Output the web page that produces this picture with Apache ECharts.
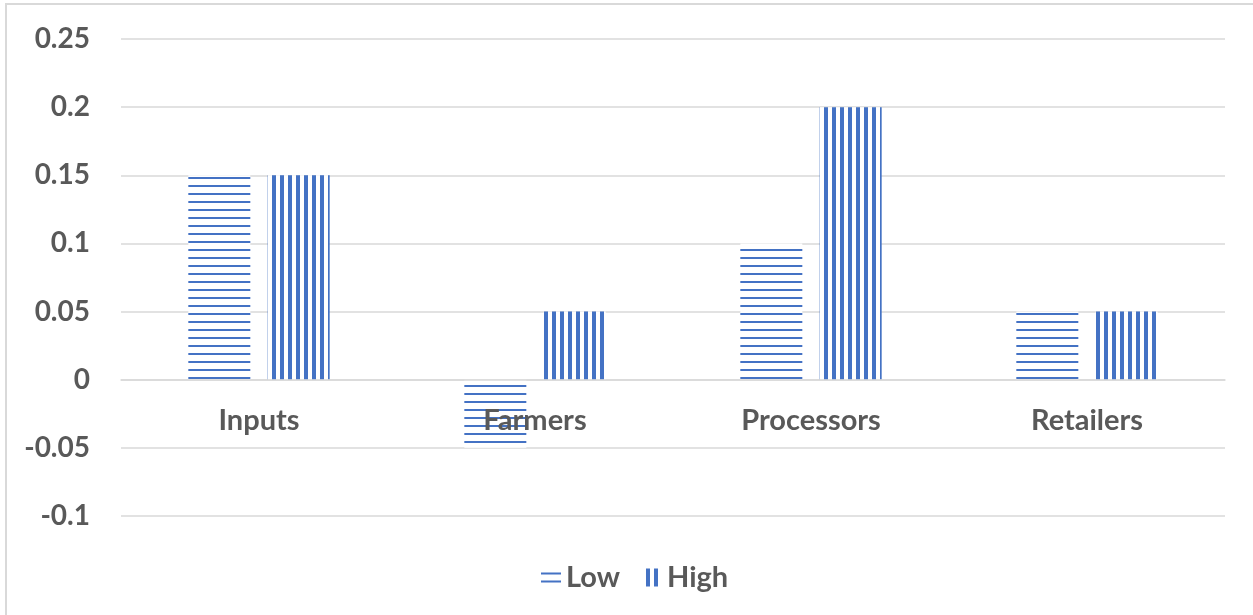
<!DOCTYPE html>
<html>
<head>
<meta charset="utf-8">
<script src="https://cdn.jsdelivr.net/npm/echarts@6/dist/echarts.min.js"></script>
<style>
  html, body { margin: 0; padding: 0; background: #fff; }
  #chart { width: 1253px; height: 615px; }
</style>
</head>
<body>
<div id="chart"></div>
<script>
// Chart data
const categories = ['Inputs', 'Farmers', 'Processors', 'Retailers'];
const lowValues = [0.15, -0.05, 0.1, 0.05];
const highValues = [0.15, 0.05, 0.2, 0.05];
const yTickLabels = ['-0.1', '-0.05', '0', '0.05', '0.1', '0.15', '0.2', '0.25'];

const BLUE = '#4472c4';
const TEXT = '#595959';
const GRID = '#d9d9d9';
const FONT = 'Lato, "Open Sans", sans-serif';

// Striped fills: horizontal lines for Low, vertical lines for High
function stripePattern(vertical) {
  const c = document.createElement('canvas');
  c.width = 8; c.height = 8;
  const ctx = c.getContext('2d');
  ctx.fillStyle = '#ffffff';
  ctx.fillRect(0, 0, 8, 8);
  ctx.fillStyle = BLUE;
  if (vertical) ctx.fillRect(0, 0, 4, 8);
  else ctx.fillRect(0, 1, 8, 2);
  return { image: c, repeat: 'repeat' };
}

const chart = echarts.init(document.getElementById('chart'), null, { renderer: 'canvas' });

chart.setOption({
  animation: false,
  backgroundColor: '#ffffff',
  graphic: [{
    type: 'rect',
    shape: { x: 6, y: 4, width: 1300, height: 700 },
    style: { fill: 'none', stroke: GRID, lineWidth: 2 },
    silent: true
  }],
  grid: { left: 121, right: 28, top: 39, bottom: 99, containLabel: false },
  legend: {
    left: 536,
    top: 558,
    itemWidth: 20,
    itemHeight: 18,
    itemGap: 26,
    textStyle: { color: TEXT, fontSize: 29, fontWeight: 'bold', fontFamily: FONT },
    data: [
      { name: 'Low', icon: 'path://M0,0H20V2H0Z M0,8H20V10H0Z', itemStyle: { color: BLUE } },
      { name: 'High', icon: 'path://M0,0H4V18H0Z M8,0H12V18H8Z', itemStyle: { color: BLUE } }
    ]
  },
  xAxis: {
    type: 'category',
    data: categories,
    z: 5,
    axisLine: { onZero: true, lineStyle: { color: GRID, width: 1.5 } },
    axisTick: { show: false },
    // category names sit just under the zero line, drawn over the bars
    axisLabel: { color: TEXT, fontSize: 29, fontWeight: 'bold', fontFamily: FONT, margin: -110 },
    splitLine: { show: false }
  },
  yAxis: {
    type: 'value',
    min: -0.1,
    max: 0.25,
    interval: 0.05,
    axisLine: { show: false },
    axisTick: { show: false },
    axisLabel: {
      color: TEXT, fontSize: 28, fontWeight: 'bold', fontFamily: FONT, margin: 31,
      formatter: function (v) {
        const i = Math.round((v + 0.1) / 0.05);
        return yTickLabels[i] !== undefined ? yTickLabels[i] : '';
      }
    },
    splitLine: { lineStyle: { color: GRID, width: 1.5 } }
  },
  series: [
    {
      name: 'Low',
      type: 'bar',
      data: lowValues,
      barWidth: 62,
      barGap: '28%',
      itemStyle: { color: stripePattern(false) }
    },
    {
      name: 'High',
      type: 'bar',
      data: highValues,
      barWidth: 62,
      barGap: '28%',
      itemStyle: { color: stripePattern(true) }
    }
  ]
});
</script>
</body>
</html>
